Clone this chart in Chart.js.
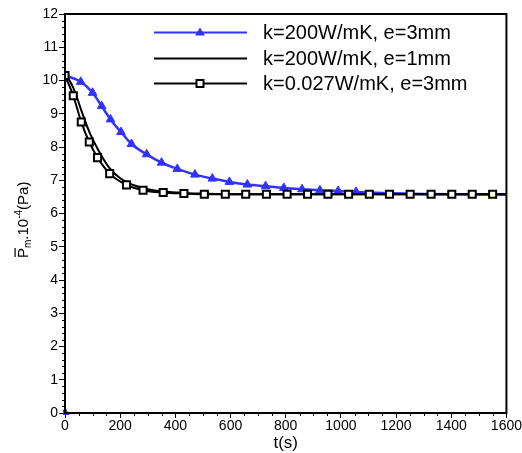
<!DOCTYPE html>
<html>
<head>
<meta charset="utf-8">
<script src="https://cdn.jsdelivr.net/npm/chart.js@4"></script>
<style>
  html, body { margin: 0; padding: 0; background: #fff; }
  #wrap { position: relative; width: 522px; height: 453px; }
  #legend { position: absolute; left: 154px; top: 20px; font-family: "Liberation Sans", Arial, sans-serif; font-size: 20px; color: #000; }
  .leg-row { display: flex; align-items: center; height: 25.5px; white-space: nowrap; }
  .leg-row svg { margin-right: 16px; }
</style>
</head>
<body>
<div id="wrap">
  <canvas id="toolChart" width="522" height="453"></canvas>
  <div id="legend"></div>
</div>
<script>
// ==================== data ====================
const seriesLabels = ['k=200W/mK, e=3mm', 'k=200W/mK, e=1mm', 'k=0.027W/mK, e=3mm'];

// k=200W/mK, e=3mm (blue, triangles up to ~1055 s)
const blueTime  = [0, 57, 100, 133, 165, 203, 241, 296, 350, 407, 471, 534, 596, 661, 727, 793, 859, 924, 990, 1055, 1150, 1300, 1450, 1600];
const blueValue = [10.15, 9.96, 9.63, 9.23, 8.83, 8.45, 8.09, 7.78, 7.53, 7.34, 7.17, 7.05, 6.95, 6.87, 6.82, 6.77, 6.73, 6.70, 6.68, 6.65, 6.62, 6.59, 6.58, 6.57];
const blueMarked = 20;

// k=200W/mK, e=1mm (plain black line)
const plainTime  = [0, 15, 30, 45, 60, 90, 120, 160, 200, 250, 300, 360, 430, 500, 600, 1600];
const plainValue = [10.15, 10.02, 9.78, 9.45, 9.08, 8.42, 7.92, 7.38, 7.06, 6.85, 6.73, 6.66, 6.62, 6.60, 6.58, 6.58];

// k=0.027W/mK, e=3mm (black, squares)
const squareTime  = [0, 30, 59, 88, 118, 162, 223, 283, 356, 431, 505, 581, 655, 730, 805, 879, 953, 1028, 1103, 1176, 1251, 1327, 1402, 1476, 1550, 1600];
const squareValue = [10.15, 9.54, 8.75, 8.15, 7.68, 7.20, 6.86, 6.70, 6.63, 6.60, 6.58, 6.58, 6.58, 6.58, 6.58, 6.58, 6.58, 6.58, 6.58, 6.58, 6.58, 6.58, 6.58, 6.58, 6.58, 6.58];
const squareMarked = 25;

// stray blue marker sitting on the origin
const strayTime = [0];
const strayValue = [0];

const xTicks = [0, 200, 400, 600, 800, 1000, 1200, 1400, 1600];
const yTicks = [0, 1, 2, 3, 4, 5, 6, 7, 8, 9, 10, 11, 12];

const BLUE = '#3333ff';
const FONT = '"Liberation Sans", Arial, sans-serif';

function toPoints(xs, ys) {
  return xs.map((x, i) => ({ x, y: ys[i] }));
}

// frame, minor ticks and the y-axis label
const framePlugin = {
  id: 'frame',
  afterDraw(chart) {
    const { ctx, chartArea: a, scales } = chart;
    ctx.save();
    ctx.strokeStyle = '#000';
    ctx.lineWidth = 1;
    ctx.beginPath();
    for (let v = 0; v <= 1600; v += 50) {
      if (v % 200 === 0) continue;
      const px = Math.round(scales.x.getPixelForValue(v)) + 0.5;
      ctx.moveTo(px, a.bottom); ctx.lineTo(px, a.bottom + 3);
    }
    for (let i = 0; i <= 60; i++) {
      if (i % 5 === 0) continue;
      const py = Math.round(scales.y.getPixelForValue(i * 0.2)) + 0.5;
      ctx.moveTo(a.left, py); ctx.lineTo(a.left - 3, py);
    }
    ctx.stroke();
    ctx.lineWidth = 2;
    ctx.strokeRect(a.left, a.top, a.right - a.left, a.bottom - a.top);

    // y label: P-bar sub m . 10 sup -4 (Pa)
    ctx.translate(28, 258);
    ctx.rotate(-Math.PI / 2);
    ctx.fillStyle = '#000';
    ctx.textBaseline = 'alphabetic';
    let x = 0;
    ctx.font = '15px ' + FONT;
    ctx.fillText('P', x, 0);
    const wP = ctx.measureText('P').width;
    ctx.fillRect(x + 1, -13.5, wP - 1, 1.2);
    x += wP;
    ctx.font = '10px ' + FONT;
    ctx.fillText('m', x, 3);
    x += ctx.measureText('m').width;
    ctx.font = '15px ' + FONT;
    ctx.fillText('.10', x, 0);
    x += ctx.measureText('.10').width;
    ctx.font = '10px ' + FONT;
    ctx.fillText('-4', x, -6);
    x += ctx.measureText('-4').width;
    ctx.font = '15px ' + FONT;
    ctx.fillText('(Pa)', x, 0);
    ctx.restore();
  }
};

const chart = new Chart(document.getElementById('toolChart'), {
  type: 'scatter',
  data: {
    datasets: [
      {
        label: seriesLabels[2],
        data: toPoints(squareTime, squareValue),
        showLine: true,
        borderColor: '#000',
        borderWidth: 2,
        cubicInterpolationMode: 'monotone',
        pointStyle: 'rect',
        pointRadius: c => c.dataIndex < squareMarked ? 5 : 0,
        pointBorderWidth: 2,
        pointBorderColor: '#000',
        pointBackgroundColor: '#fff',
        order: 0
      },
      {
        label: seriesLabels[1],
        data: toPoints(plainTime, plainValue),
        showLine: true,
        borderColor: '#000',
        borderWidth: 2,
        cubicInterpolationMode: 'monotone',
        pointRadius: 0,
        order: 1
      },
      {
        label: seriesLabels[0],
        data: toPoints(blueTime, blueValue),
        showLine: true,
        borderColor: BLUE,
        borderWidth: 2.5,
        cubicInterpolationMode: 'monotone',
        pointStyle: 'triangle',
        pointRadius: c => c.dataIndex < blueMarked ? 5 : 0,
        pointBorderWidth: 1,
        pointBorderColor: BLUE,
        pointBackgroundColor: BLUE,
        order: 2
      },
      {
        label: 'stray',
        data: toPoints(strayTime, strayValue),
        showLine: false,
        pointStyle: 'triangle',
        pointRadius: 5,
        pointBorderWidth: 1,
        pointBorderColor: BLUE,
        pointBackgroundColor: BLUE,
        clip: 2,
        order: 3
      }
    ]
  },
  options: {
    responsive: false,
    animation: false,
    layout: { padding: { left: 0, right: 15, top: 14, bottom: 0 } },
    plugins: { legend: { display: false }, tooltip: { enabled: false } },
    scales: {
      x: {
        type: 'linear', min: 0, max: 1600,
        afterBuildTicks: s => { s.ticks = xTicks.map(v => ({ value: v })); },
        afterFit: s => { s.height = 40; },
        border: { display: false },
        grid: { drawOnChartArea: false, tickLength: 5, tickColor: '#000', tickWidth: 1 },
        ticks: { color: '#000', padding: 0, maxRotation: 0, font: { family: FONT, size: 14 }, callback: v => String(v) },
        title: { display: true, text: 't(s)', color: '#000', font: { family: FONT, size: 17 }, padding: { top: 0, bottom: -1 } }
      },
      y: {
        type: 'linear', min: 0, max: 12,
        afterBuildTicks: s => { s.ticks = yTicks.map(v => ({ value: v })); },
        afterFit: s => { s.width = 65; },
        border: { display: false },
        grid: { drawOnChartArea: false, tickLength: 6, tickColor: '#000', tickWidth: 1 },
        ticks: { color: '#000', padding: 1, font: { family: FONT, size: 14 }, callback: v => String(v) }
      }
    }
  },
  plugins: [framePlugin]
});

// html legend: line sample with the marker in the middle
function buildLegend() {
  const box = document.getElementById('legend');
  const samples = [
    { color: BLUE, marker: '<polygon points="46,3.5 51,11.5 41,11.5" fill="' + BLUE + '"/>' },
    { color: '#000', marker: '' },
    { color: '#000', marker: '<rect x="42.5" y="5" width="7" height="7" fill="#fff" stroke="#000" stroke-width="2"/>' }
  ];
  box.innerHTML = seriesLabels.map((label, i) => `<div class="leg-row">
    <svg width="93" height="17" viewBox="0 0 93 17"><line x1="0" y1="8.5" x2="93" y2="8.5" stroke="${samples[i].color}" stroke-width="2"/>${samples[i].marker}</svg>
    <span>${label}</span></div>`).join('');
}
buildLegend();
</script>
</body>
</html>
